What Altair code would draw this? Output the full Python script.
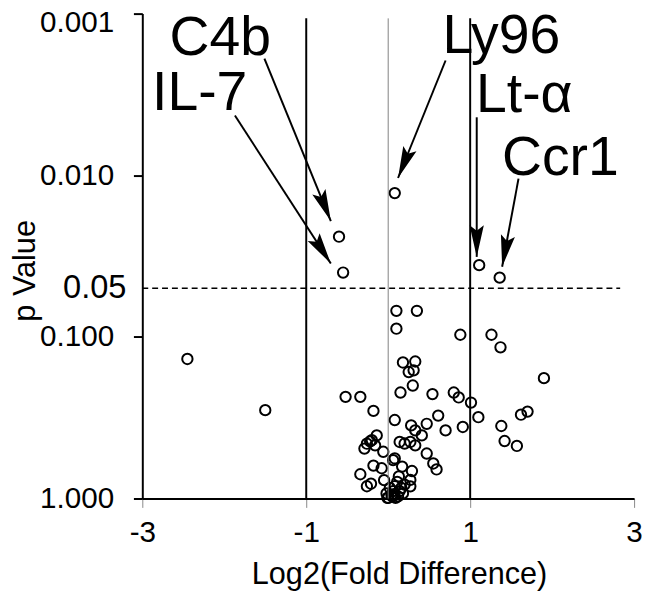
import math
import altair as alt
import pandas as pd

# ---- data ----
fold = [0.08, -0.60, -0.55, 1.11, 1.36,
        -2.45, -1.50, 0.88, 1.26, 1.37, 1.90, 0.80, 0.86, 1.01, 1.10,
        0.91, 0.70, 1.62, 1.70, 1.38, 1.42, 1.57, 0.10, 0.35, 0.10,
        0.18, 0.33, 0.25, 0.31, 0.30, 0.15, 0.54, -0.52, -0.34, -0.18,
        0.08, 0.61, 0.47, 0.28, 0.33, 0.41, -0.14, -0.22, -0.29, -0.16,
        -0.20, -0.26, -0.06, 0.14, 0.20, 0.27, 0.33, 0.47, 0.55, 0.59,
        0.08, -0.18, -0.08, -0.34, 0.29, 0.17, -0.26, -0.21, 0.27, 0.27,
        0.06, 0.00, 0.04, 0.06, 0.08, 0.11, 0.13, 0.02, -0.02, 0.16,
        0.18, -0.05, 0.05, 0.12, 0.20, -0.01, 0.09, 0.07, 0.14]
pval = [0.0129, 0.024, 0.040, 0.036, 0.043,
        0.137, 0.284, 0.097, 0.097, 0.116, 0.180, 0.221, 0.237, 0.255, 0.314,
        0.361, 0.379, 0.303, 0.290, 0.356, 0.441, 0.473, 0.069, 0.069, 0.089,
        0.144, 0.142, 0.165, 0.161, 0.200, 0.221, 0.226, 0.235, 0.235, 0.287,
        0.327, 0.307, 0.345, 0.353, 0.379, 0.407, 0.407, 0.443, 0.491, 0.469,
        0.436, 0.458, 0.514, 0.447, 0.457, 0.447, 0.469, 0.527, 0.607, 0.661,
        0.565, 0.626, 0.650, 0.708, 0.676, 0.635, 0.84, 0.81, 0.767, 0.841,
        0.579, 0.99, 0.95, 0.90, 0.84, 0.79, 0.73, 0.86, 0.93, 0.86,
        0.93, 0.77, 0.97, 0.97, 0.82, 0.99, 0.99, 0.94, 0.90]

x_ticks = [-3, -1, 1, 3]
y_ticks = [0.001, 0.01, 0.1, 1]

vline_x = [-1, 0, 1]
vline_color = ["black", "#808080", "black"]
vline_width = [2, 1, 2]
vline_top = [0.00107, 0.00107, 0.00107]
vline_bottom = [1, 1, 1]

thresh_p = [0.05]
thresh_x0 = [-3]
thresh_x1 = [2.83]
thresh_label = ["0.05"]

gene = ["C4b", "IL-7", "Ly96", "Lt-\u03b1", "Ccr1"]
label_x = [-2.05, -2.30, 1.38, 1.66, 2.10]
label_p = [0.00181, 0.00397, 0.00176, 0.00409, 0.00993]
arrow_x0 = [-1.51, -1.87, 0.70, 1.08, 1.59]
arrow_p0 = [0.00190, 0.00427, 0.00195, 0.00438, 0.0105]
arrow_x1 = [-0.70, -0.70, 0.12, 1.08, 1.39]
arrow_p1 = [0.0192, 0.0352, 0.0104, 0.0320, 0.0368]

W, H = 498, 491
X_DOM = [-3, 3]
Y_DOM = [0.001, 1]

# arrowhead direction (screen space)
px_per_x = W / (X_DOM[1] - X_DOM[0])
px_per_dec = H / (math.log10(Y_DOM[1]) - math.log10(Y_DOM[0]))
angles = []
for a, b, c, d in zip(arrow_x0, arrow_p0, arrow_x1, arrow_p1):
    dx = (c - a) * px_per_x
    dy = (math.log10(d) - math.log10(b)) * px_per_dec
    angles.append(math.degrees(math.atan2(dx, -dy)) % 360)

pts = pd.DataFrame({"fold": fold, "p": pval})
vl = pd.DataFrame({"fold": vline_x, "c": vline_color, "w": vline_width,
                   "p": vline_top, "bot": vline_bottom})
th = pd.DataFrame({"fold": thresh_x0, "x1": thresh_x1, "p": thresh_p, "t": thresh_label})
ann = pd.DataFrame({"gene": gene, "lx": label_x, "lp": label_p,
                    "ax0": arrow_x0, "ap0": arrow_p0, "ax1": arrow_x1, "ap1": arrow_p1,
                    "ang": angles})

FONT = "Liberation Sans"
XT = "Log2(Fold Difference)"
YT = "p Value"
xs = alt.Scale(domain=X_DOM, nice=False, zero=False)
ys = alt.Scale(type="log", domain=Y_DOM, reverse=True, nice=False)

xaxis = alt.Axis(values=x_ticks, grid=False, tickSize=9, tickColor="#888888", tickWidth=1,
                 domainColor="black", domainWidth=2, labelFontSize=30, labelFont=FONT,
                 labelColor="black", labelPadding=11, labelFlush=False,
                 labelExpr="datum.value + ''",
                 titleFontSize=31, titleFont=FONT, titleFontWeight="normal",
                 titleColor="black", titleX=260, titleY=86, titleBaseline="alphabetic",
                 titleAnchor="middle", titleAlign="center")
yaxis = alt.Axis(values=y_ticks, format=".3f", grid=False, tickSize=9, tickColor="black",
                 tickWidth=2, domainColor="black", domainWidth=2, labelFontSize=30,
                 labelFont=FONT, labelColor="black", labelPadding=20,
                 labelOffset={"condition": {"test": "datum.value < 0.0011", "value": 9}, "value": 0},
                 titleFontSize=31, titleFont=FONT, titleFontWeight="normal", titleColor="black",
                 titleX=-109, titleY=260, titleAngle=270, titleBaseline="alphabetic",
                 titleAlign="center")


def X(field):
    return alt.X(field, type="quantitative", scale=xs, axis=xaxis, title=XT)


def Y(field):
    return alt.Y(field, type="quantitative", scale=ys, axis=yaxis, title=YT)


points = alt.Chart(pts).mark_point(shape="circle", filled=False, color="black", size=110,
                                   strokeWidth=2, opacity=1).encode(
    x=X("fold"), y=Y("p"),
)

vlines = alt.Chart(vl).mark_rule().encode(
    x=X("fold"), y=Y("p"), y2="bot:Q",
    color=alt.Color("c:N", scale=None, legend=None),
    strokeWidth=alt.StrokeWidth("w:Q", scale=None, legend=None),
)

thresh = alt.Chart(th).mark_rule(strokeDash=[6, 4], strokeWidth=1.5, color="black").encode(
    x=X("fold"), x2="x1:Q", y=Y("p"),
)

thresh_text = alt.Chart(th).mark_text(font=FONT, fontSize=33, align="right",
                                      baseline="middle", color="black").encode(
    x=alt.value(-16), y=Y("p"), text="t:N",
)

arrows = alt.Chart(ann).mark_rule(strokeWidth=2, color="black").encode(
    x=X("ax0"), y=Y("ap0"), x2="ax1:Q", y2="ap1:Q",
)

heads = alt.Chart(ann).mark_point(shape="M0,0L0.45,2L0,1.65L-0.45,2Z", filled=True,
                                  color="black", size=1024, opacity=1, strokeWidth=0).encode(
    x=X("ax1"), y=Y("ap1"),
    angle=alt.Angle("ang:Q", scale=None),
)

labels = alt.Chart(ann).mark_text(font=FONT, fontSize=56, align="center",
                                  baseline="alphabetic", color="black").encode(
    x=X("lx"), y=Y("lp"), text="gene:N",
)

chart = alt.layer(points, vlines, thresh, thresh_text, arrows, heads, labels).properties(
    width=W, height=H,
    autosize=alt.AutoSizeParams(type="none"),
    padding={"left": 136, "top": 2, "right": 8, "bottom": 92},
    background="white",
).configure(font=FONT).configure_view(stroke=None)

chart.save("out.html", embed_options={"renderer": "svg", "actions": False})
